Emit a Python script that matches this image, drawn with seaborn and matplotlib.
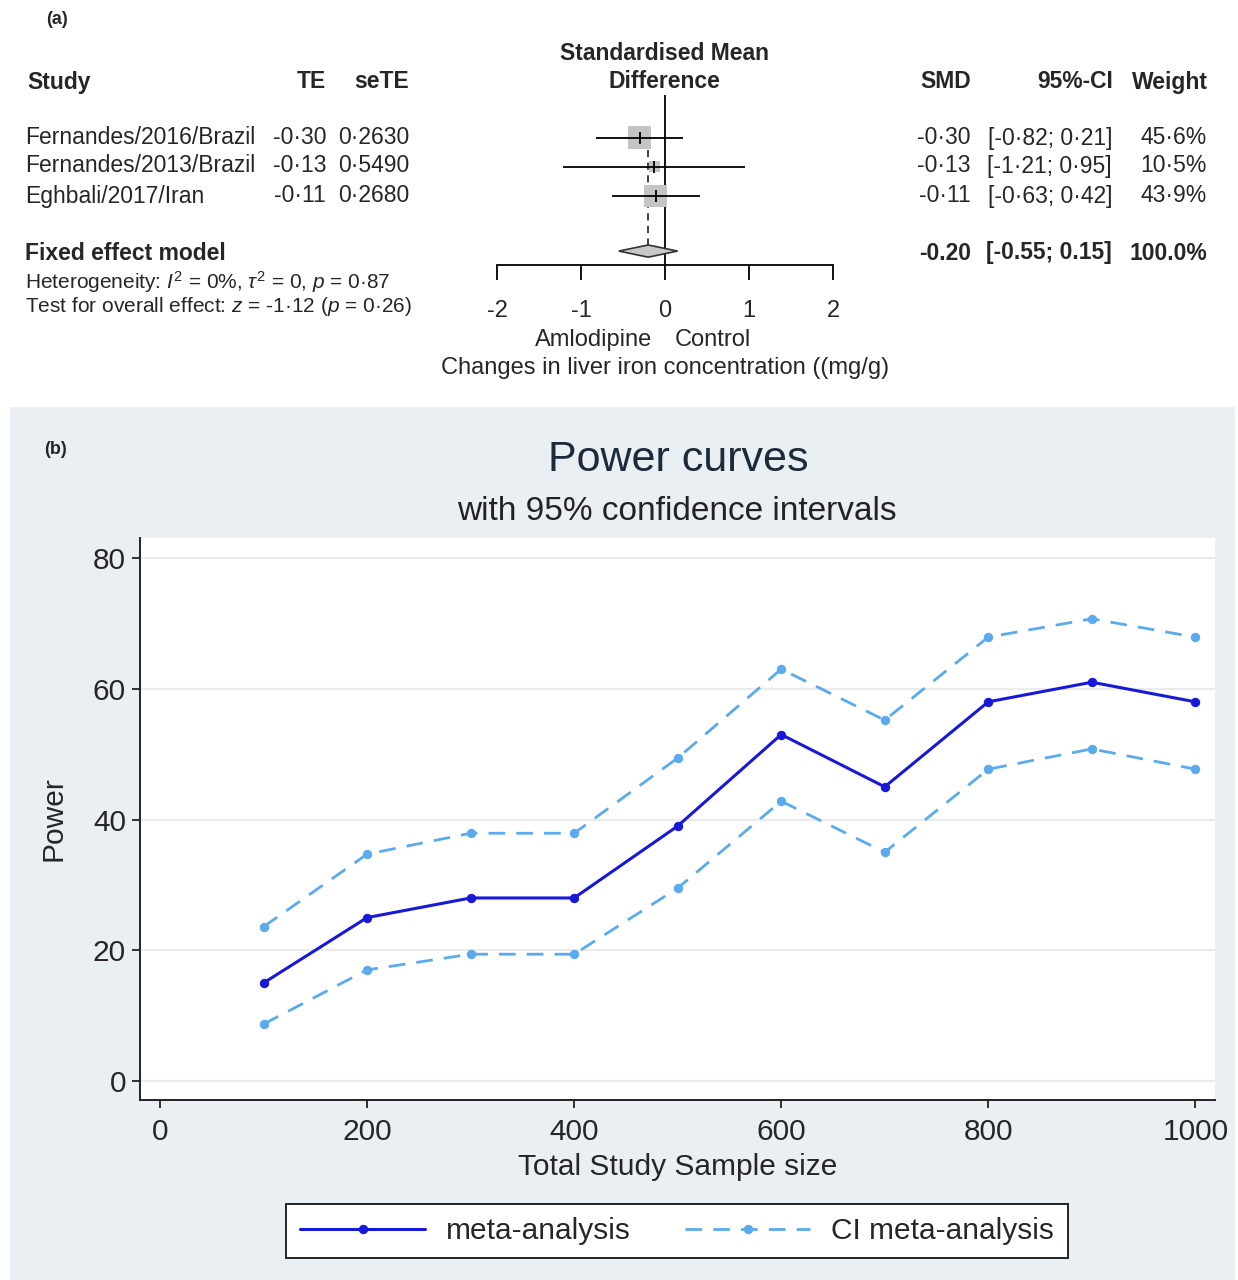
import matplotlib
matplotlib.use("Agg")
import matplotlib.pyplot as plt
import matplotlib.patches as mpatches
import numpy as np
import pandas as pd
import seaborn as sns

# ---------------- data ----------------
studies = ["Fernandes/2016/Brazil", "Fernandes/2013/Brazil", "Eghbali/2017/Iran"]
te = [-0.30, -0.13, -0.11]
te_lbl = ["-0·30", "-0·13", "-0·11"]
sete_lbl = ["0·2630", "0·5490", "0·2680"]
ci_low = [-0.82, -1.21, -0.63]
ci_high = [0.21, 0.95, 0.42]
weights = [45.6, 10.5, 43.9]
smd_lbl = ["-0·30", "-0·13", "-0·11"]
ci_lbl = ["[-0·82; 0·21]", "[-1·21; 0·95]", "[-0·63; 0·42]"]
w_lbl = ["45·6%", "10·5%", "43·9%"]
pooled = -0.20
pooled_lo = -0.55
pooled_hi = 0.15
forest_ticks = [-2, -1, 0, 1, 2]

sample_size = [100, 200, 300, 400, 500, 600, 700, 800, 900, 1000]
power_meta = [15, 25, 28, 28, 39, 53, 45, 58, 61, 58]
power_upper = [23.6, 34.7, 37.9, 37.9, 49.4, 63.0, 55.2, 67.9, 70.7, 67.9]
power_lower = [8.7, 17.0, 19.4, 19.4, 29.5, 42.8, 35.0, 47.7, 50.8, 47.7]

# ---------------- style ----------------
sns.set_style("white")
plt.rcParams["font.family"] = ["Liberation Sans", "DejaVu Sans"]
plt.rcParams["mathtext.fontset"] = "custom"
plt.rcParams["mathtext.rm"] = "Liberation Sans"
plt.rcParams["mathtext.it"] = "Liberation Sans:italic"

W, H = 1238, 1280
fig = plt.figure(figsize=(W / 100, H / 100), dpi=100)
fig.patch.set_facecolor("white")


def fx(px):
    return px / W


def fy(py):
    return 1 - py / H


# panel (b) background
fig.add_artist(mpatches.Rectangle((fx(10), fy(1280)), fx(1235) - fx(10), fy(407) - fy(1280),
                                  transform=fig.transFigure, facecolor="#e9eff2",
                                  edgecolor="none", zorder=0))

# ---------------- panel (a): forest plot ----------------
FS = 16.5
fig.text(fx(46), fy(20), "(a)", fontsize=13, fontweight="bold", va="center", ha="left")
hy = fy(82)
fig.text(fx(27), hy, "Study", fontsize=FS, fontweight="bold", va="center", ha="left")
fig.text(fx(326), hy, "TE", fontsize=FS, fontweight="bold", va="center", ha="right")
fig.text(fx(409), hy, "seTE", fontsize=FS, fontweight="bold", va="center", ha="right")
fig.text(fx(664), fy(53), "Standardised Mean", fontsize=FS, fontweight="bold", va="center", ha="center")
fig.text(fx(664), hy, "Difference", fontsize=FS, fontweight="bold", va="center", ha="center")
fig.text(fx(971), hy, "SMD", fontsize=FS, fontweight="bold", va="center", ha="right")
fig.text(fx(1113), hy, "95%-CI", fontsize=FS, fontweight="bold", va="center", ha="right")
fig.text(fx(1208), hy, "Weight", fontsize=FS, fontweight="bold", va="center", ha="right")

row_px = [138, 166, 196]
for i in range(3):
    y = fy(row_px[i])
    fig.text(fx(25), y, studies[i], fontsize=FS, va="center", ha="left")
    fig.text(fx(326), y, te_lbl[i], fontsize=FS, va="center", ha="right")
    fig.text(fx(409), y, sete_lbl[i], fontsize=FS, va="center", ha="right")
    fig.text(fx(971), y, smd_lbl[i], fontsize=FS, va="center", ha="right")
    fig.text(fx(1112), y, ci_lbl[i], fontsize=FS, va="center", ha="right")
    fig.text(fx(1207), y, w_lbl[i], fontsize=FS, va="center", ha="right")

py = fy(253)
fig.text(fx(25), py, "Fixed effect model", fontsize=FS, fontweight="bold", va="center", ha="left")
fig.text(fx(971), py, "-0.20", fontsize=FS, fontweight="bold", va="center", ha="right")
fig.text(fx(1112), py, "[-0.55; 0.15]", fontsize=FS, fontweight="bold", va="center", ha="right")
fig.text(fx(1207), py, "100.0%", fontsize=FS, fontweight="bold", va="center", ha="right")
fig.text(fx(25), fy(282), r"Heterogeneity: $I^2$ = 0%, $\tau^2$ = 0, $p$ = 0·87",
         fontsize=15, va="center", ha="left")
fig.text(fx(25), fy(307), r"Test for overall effect: $z$ = -1·12 ($p$ = 0·26)",
         fontsize=15, va="center", ha="left")
fig.text(fx(594), fy(340), "Amlodipine", fontsize=17, va="center", ha="center")
fig.text(fx(713), fy(340), "Control", fontsize=17, va="center", ha="center")
fig.text(fx(665), fy(368), "Changes in liver iron concentration ((mg/g)", fontsize=17,
         va="center", ha="center")

axf = fig.add_axes([fx(497), fy(265), fx(833) - fx(497), fy(95) - fy(265)])
axf.set_facecolor("none")
rows = np.arange(3)
diamond_row = 3.9
axf.set_xlim(-2, 2)
axf.set_ylim(4.38, -1.48)
axf.axvline(0, color="black", lw=1.3, zorder=1)
axf.hlines(rows, ci_low, ci_high, color="black", lw=1.3, zorder=3)
sq = pd.DataFrame({"te": te, "row": rows, "w": weights})
sns.scatterplot(data=sq, x="te", y="row", size="w", sizes=(6.03 * min(weights), 6.03 * max(weights)),
                size_norm=(min(weights), max(weights)), marker="s", color="#c4c4c4",
                edgecolor="none", legend=False, ax=axf, zorder=2)
axf.scatter(te, rows, marker="|", s=70, color="black", lw=1.3, zorder=4)
dh = 0.21
axf.plot([pooled, pooled], [0.4, diamond_row - dh], color="#333333", lw=1.3,
         linestyle=(0, (4, 3)), zorder=1)
axf.add_patch(mpatches.Polygon([[pooled_lo, diamond_row], [pooled, diamond_row - dh],
                                [pooled_hi, diamond_row], [pooled, diamond_row + dh]],
                               closed=True, facecolor="#c8c8c8", edgecolor="#333333",
                               lw=1.2, zorder=3))
for s in ["top", "right", "left"]:
    axf.spines[s].set_visible(False)
axf.spines["bottom"].set_color("black")
axf.spines["bottom"].set_linewidth(1.3)
axf.set_yticks([])
axf.set_xticks(forest_ticks)
axf.set_xticklabels([str(t) for t in forest_ticks])
axf.tick_params(axis="x", direction="out", length=11, width=1.3, color="black",
                labelsize=17, pad=14, bottom=True)
axf.set_xlabel("")
axf.set_ylabel("")

# ---------------- panel (b): power curves ----------------
fig.text(fx(44), fy(450), "(b)", fontsize=13, fontweight="bold", va="center", ha="left")
fig.text(fx(678), fy(460), "Power curves", fontsize=31, va="center", ha="center", color="#1c2a3a")
fig.text(fx(677), fy(511), "with 95% confidence intervals", fontsize=24, va="center",
         ha="center", color="#222222")

ax = fig.add_axes([fx(140), fy(1100), fx(1215) - fx(140), fy(538) - fy(1100)])
ax.set_facecolor("white")
df = pd.DataFrame({"n": sample_size, "meta": power_meta, "up": power_upper, "lo": power_lower})
blue = "#1818d8"
lblue = "#5aaaee"
sns.lineplot(data=df, x="n", y="meta", color=blue, lw=2.2, marker="o", markersize=6,
             markeredgecolor=blue, label="meta-analysis", ax=ax, zorder=4)
sns.lineplot(data=df, x="n", y="up", color=lblue, lw=2.0, marker="o", markersize=6,
             markeredgecolor=lblue, linestyle=(0, (6, 4)), label="CI meta-analysis", ax=ax, zorder=3)
sns.lineplot(data=df, x="n", y="lo", color=lblue, lw=2.0, marker="o", markersize=6,
             markeredgecolor=lblue, linestyle=(0, (6, 4)), label="_nolegend_", ax=ax, zorder=3)
ax.set_xlim(-19.3, 1019)
ax.set_ylim(-2.9, 83.06)
ax.set_xticks([0, 200, 400, 600, 800, 1000])
ax.set_yticks([0, 20, 40, 60, 80])
ax.grid(axis="y", color="#ebebeb", lw=1.6)
ax.grid(axis="x", visible=False)
ax.set_axisbelow(True)
for s in ["top", "right"]:
    ax.spines[s].set_visible(False)
for s in ["left", "bottom"]:
    ax.spines[s].set_color("#222222")
    ax.spines[s].set_linewidth(1.4)
ax.tick_params(axis="both", direction="out", length=6, width=1.3, color="#222222",
               labelsize=21.5, left=True, bottom=True)
ax.tick_params(axis="y", pad=4)
ax.tick_params(axis="x", pad=7)
ax.set_xlabel("Total Study Sample size", fontsize=21.5, labelpad=5)
ax.set_ylabel("Power", fontsize=21.5, labelpad=18)
leg = ax.legend(loc="center", bbox_to_anchor=(fx(677), fy(1231)), bbox_transform=fig.transFigure,
                ncol=2, fontsize=21.5, frameon=True, fancybox=False, edgecolor="#222222",
                handlelength=4.2, columnspacing=1.8, handletextpad=0.7, borderpad=0.45,
                borderaxespad=0)
leg.get_frame().set_linewidth(1.4)
leg.get_frame().set_facecolor("white")
leg.get_frame().set_alpha(1)

fig.savefig("out.png", dpi=100)
